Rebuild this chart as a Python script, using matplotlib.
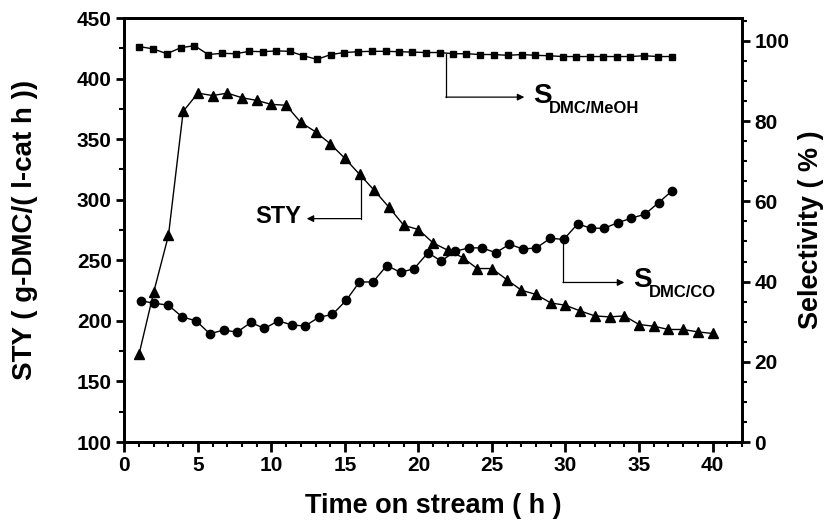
import matplotlib
matplotlib.use("Agg")
import matplotlib.pyplot as plt
from matplotlib.ticker import MultipleLocator

plt.rcParams['font.family'] = ['Liberation Sans', 'DejaVu Sans']
plt.rcParams['font.weight'] = 'bold'

# STY (left axis), measured each hour
sty_time = list(range(1, 41))
sty = [172.5, 223.9, 270.6, 372.9, 388.0, 386.0, 388.0, 384.2, 382.0, 378.7,
       378.0, 363.8, 356.1, 346.2, 334.1, 320.9, 307.7, 293.7, 278.9, 275.4,
       264.3, 258.3, 252.3, 243.2, 243.2, 234.1, 225.3, 221.8, 214.8, 212.9,
       208.2, 204.1, 203.3, 204.1, 197.0, 195.6, 192.9, 192.9, 190.9, 189.6]

# Selectivity DMC/CO (right axis)
co_time = [1.10, 2.05, 3.00, 3.93, 4.88, 5.81, 6.76, 7.67, 8.60, 9.53,
           10.46, 11.39, 12.29, 13.22, 14.15, 15.08, 15.99, 16.91, 17.85, 18.78,
           19.70, 20.65, 21.54, 22.47, 23.42, 24.32, 25.26, 26.19, 27.11, 28.02,
           28.97, 29.88, 30.83, 31.71, 32.64, 33.57, 34.48, 35.41, 36.34, 37.27]
s_co = [35.2, 34.6, 34.1, 31.2, 30.2, 27.0, 27.9, 27.4, 29.8, 28.3,
        30.2, 29.2, 28.9, 31.1, 31.8, 35.3, 39.9, 39.9, 44.0, 42.3,
        43.2, 47.2, 45.1, 47.5, 48.4, 48.4, 47.2, 49.3, 48.1, 48.4,
        50.8, 50.5, 54.4, 53.3, 53.3, 54.7, 55.8, 56.8, 59.7, 62.7]

# Selectivity DMC/MeOH (right axis)
meoh_time = [0.99, 1.96, 2.89, 3.84, 4.77, 5.70, 6.65, 7.56, 8.51, 9.42,
             10.32, 11.25, 12.16, 13.11, 14.04, 14.97, 15.89, 16.83, 17.76, 18.68,
             19.59, 20.54, 21.45, 22.35, 23.26, 24.21, 25.14, 26.09, 27.02, 27.95,
             28.86, 29.81, 30.74, 31.67, 32.58, 33.48, 34.41, 35.34, 36.29, 37.24]
s_meoh = [98.6, 98.0, 96.8, 98.3, 98.8, 96.6, 96.9, 96.8, 97.4, 97.3,
          97.5, 97.4, 96.3, 95.4, 96.6, 97.1, 97.3, 97.4, 97.4, 97.3,
          97.2, 97.1, 97.1, 96.8, 96.8, 96.6, 96.6, 96.4, 96.6, 96.4,
          96.3, 96.1, 96.1, 96.1, 96.1, 96.1, 96.1, 96.3, 96.1, 96.1]

fig = plt.figure(figsize=(8.29, 5.30), dpi=100)
ax1 = fig.add_axes([0.150, 0.166, 0.745, 0.800])
ax2 = ax1.twinx()

ax1.plot(sty_time, sty, color='black', lw=1.0, marker='^', ms=7, zorder=3)
ax2.plot(co_time, s_co, color='black', lw=1.0, marker='o', ms=6, zorder=3)
ax2.plot(meoh_time, s_meoh, color='black', lw=1.0, marker='s', ms=5, zorder=3)

ax1.set_xlim(0, 42)
ax1.set_ylim(100, 450)
ax2.set_ylim(0, 105.7)

ax1.xaxis.set_major_locator(MultipleLocator(5))
ax1.xaxis.set_minor_locator(MultipleLocator(1))
ax1.yaxis.set_major_locator(MultipleLocator(50))
ax1.yaxis.set_minor_locator(MultipleLocator(25))
ax2.yaxis.set_major_locator(MultipleLocator(20))
ax2.yaxis.set_minor_locator(MultipleLocator(5))

for ax in (ax1, ax2):
    for s in ax.spines.values():
        s.set_linewidth(2)
    ax.tick_params(which='major', direction='out', length=6, width=2, labelsize=15, pad=3)
    ax.tick_params(which='minor', direction='out', length=3.5, width=1.5)
ax1.tick_params(axis='x', which='major', length=7)

ax1.set_xlabel('Time on stream ( h )', fontsize=19.5, fontweight='bold', labelpad=13)
ax1.set_ylabel('STY ( g-DMC/( l-cat h ))', fontsize=20, fontweight='bold', labelpad=28)
ax2.set_ylabel('Selectivity ( % )', fontsize=19.5, fontweight='bold', labelpad=6)

arrow = dict(arrowstyle='-|>', color='black', lw=0.9, mutation_scale=10, shrinkA=0, shrinkB=0)

# STY callout
ax1.plot([16.06, 16.06], [sty[15], 284.4], color='black', lw=0.9)
ax1.annotate('', xy=(12.4, 284.4), xytext=(16.06, 284.4), arrowprops=arrow)
ax1.text(12.0, 286.5, 'STY', fontsize=17, fontweight='bold', ha='right', va='center')

# S DMC/MeOH callout
ax1.plot([21.86, 21.86], [420.7, 384.7], color='black', lw=0.9)
ax1.annotate('', xy=(27.2, 384.7), xytext=(21.86, 384.7), arrowprops=arrow)
ax1.text(27.8, 385.5, 'S', fontsize=20, fontweight='bold', ha='left', va='center')
ax1.text(28.9, 375.5, 'DMC/MeOH', fontsize=12, fontweight='bold', ha='left', va='center')

# S DMC/CO callout
ax1.plot([29.83, 29.83], [267.0, 231.7], color='black', lw=0.9)
ax1.annotate('', xy=(34.0, 231.7), xytext=(29.83, 231.7), arrowprops=arrow)
ax1.text(34.6, 233.5, 'S', fontsize=20, fontweight='bold', ha='left', va='center')
ax1.text(35.7, 223.5, 'DMC/CO', fontsize=12, fontweight='bold', ha='left', va='center')

fig.savefig('out.png', dpi=100)
